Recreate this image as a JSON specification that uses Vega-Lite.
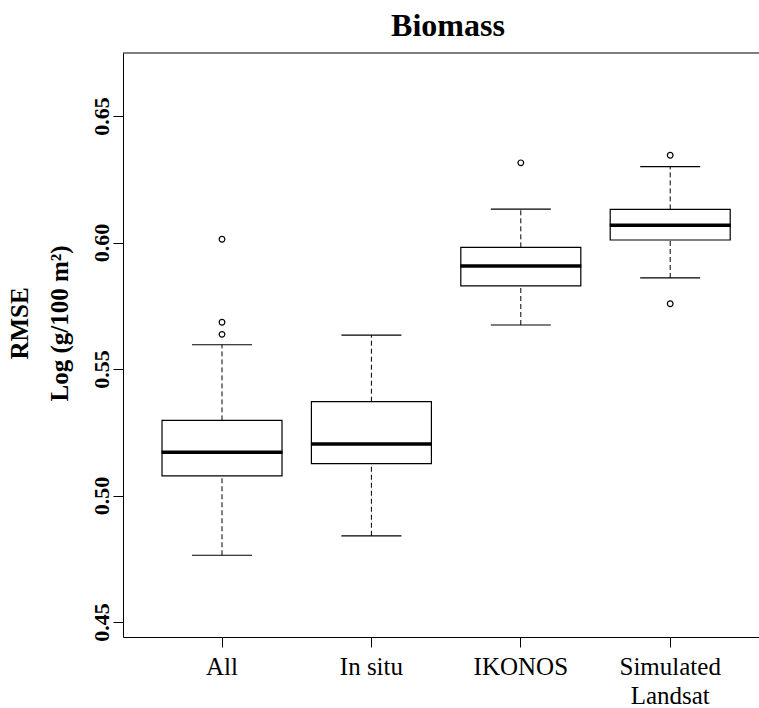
{
  "$schema": "https://vega.github.io/schema/vega-lite/v6.json",
  "width": 636,
  "height": 584,
  "autosize": {"type": "none"},
  "padding": {"left": 123, "top": 53, "right": 0, "bottom": 71},
  "background": "white",
  "title": {
    "text": "Biomass",
    "font": "Liberation Serif",
    "fontSize": 32,
    "fontWeight": "bold",
    "color": "black",
    "anchor": "middle",
    "baseline": "bottom",
    "offset": 12,
    "dx": 7,
    "dy": 35
  },
  "config": {
    "view": {"stroke": null},
    "axis": {"domainColor": "black", "tickColor": "black", "labelColor": "black", "titleColor": "black", "grid": false}
  },
  "datasets": {
    "stats": [
      {"group": "All", "lower": 0.4764, "q1": 0.5078, "median": 0.5171, "q3": 0.5297, "upper": 0.5596},
      {"group": "In situ", "lower": 0.4841, "q1": 0.5126, "median": 0.5204, "q3": 0.5371, "upper": 0.5634},
      {"group": "IKONOS", "lower": 0.5674, "q1": 0.5829, "median": 0.5907, "q3": 0.5981, "upper": 0.6132},
      {"group": "Simulated Landsat", "lower": 0.5860, "q1": 0.6010, "median": 0.6068, "q3": 0.6131, "upper": 0.6300}
    ],
    "outliers": [
      {"group": "All", "value": 0.6013},
      {"group": "All", "value": 0.5685},
      {"group": "All", "value": 0.5637},
      {"group": "IKONOS", "value": 0.6315},
      {"group": "Simulated Landsat", "value": 0.6345},
      {"group": "Simulated Landsat", "value": 0.5758}
    ]
  },
  "encoding": {
    "x": {
      "field": "group",
      "type": "nominal",
      "scale": {"domain": ["All", "In situ", "IKONOS", "Simulated Landsat"], "paddingInner": 0, "paddingOuter": 0.1285, "align": 0.633},
      "axis": {
        "title": null,
        "labelAngle": 0,
        "labelFont": "Liberation Serif",
        "labelFontSize": 25,
        "labelAlign": "center",
        "labelBaseline": "alphabetic",
        "labelPadding": 27,
        "labelLineHeight": 29,
        "tickSize": 10,
        "domainWidth": 1,
        "labelExpr": "datum.label == 'Simulated Landsat' ? ['Simulated', 'Landsat'] : datum.label"
      }
    }
  },
  "layer": [
    {
      "data": {"name": "stats"},
      "mark": {"type": "rule", "color": "black", "strokeWidth": 1, "strokeDash": [5, 3]},
      "encoding": {
        "y": {
          "field": "lower",
          "type": "quantitative",
          "scale": {"domain": [0.4441, 0.6749], "nice": false, "zero": false},
          "axis": {
            "title": ["RMSE", "Log (g/100 m²)"],
            "titleFont": "Liberation Serif",
            "titleFontSize": 25,
            "titleFontWeight": "bold",
            "titleAngle": 270,
            "titleAlign": "center",
            "titleBaseline": "alphabetic",
            "titleLineHeight": 40,
            "titleX": -96,
            "titleY": 270,
            "values": [0.45, 0.5, 0.55, 0.6, 0.65],
            "format": ".2f",
            "labelFont": "Liberation Serif",
            "labelFontSize": 22,
            "labelFontWeight": "bold",
            "labelAngle": 270,
            "labelAlign": "center",
            "labelBaseline": "alphabetic",
            "labelPadding": 5,
            "tickSize": 10
          }
        },
        "y2": {"field": "q1"}
      }
    },
    {
      "data": {"name": "stats"},
      "mark": {"type": "rule", "color": "black", "strokeWidth": 1, "strokeDash": [5, 3]},
      "encoding": {
        "y": {"field": "q3", "type": "quantitative"},
        "y2": {"field": "upper"}
      }
    },
    {
      "data": {"name": "stats"},
      "mark": {"type": "tick", "color": "black", "opacity": 1, "size": 60, "thickness": 1.2, "orient": "horizontal"},
      "encoding": {"y": {"field": "lower", "type": "quantitative"}}
    },
    {
      "data": {"name": "stats"},
      "mark": {"type": "tick", "color": "black", "opacity": 1, "size": 60, "thickness": 1.2, "orient": "horizontal"},
      "encoding": {"y": {"field": "upper", "type": "quantitative"}}
    },
    {
      "data": {"name": "stats"},
      "mark": {"type": "bar", "fill": "white", "stroke": "black", "opacity": 1, "strokeWidth": 1.2, "size": 120},
      "encoding": {
        "y": {"field": "q1", "type": "quantitative"},
        "y2": {"field": "q3"}
      }
    },
    {
      "data": {"name": "stats"},
      "mark": {"type": "tick", "color": "black", "opacity": 1, "size": 121, "thickness": 3.5, "orient": "horizontal"},
      "encoding": {"y": {"field": "median", "type": "quantitative"}}
    },
    {
      "data": {"name": "outliers"},
      "mark": {"type": "point", "shape": "circle", "filled": false, "color": "black", "opacity": 1, "size": 32, "strokeWidth": 1.2},
      "encoding": {"y": {"field": "value", "type": "quantitative"}}
    },
    {
      "data": {"values": [{"top": 0.6749}]},
      "mark": {"type": "rule", "color": "black", "strokeWidth": 1.2},
      "encoding": {"y": {"field": "top", "type": "quantitative"}, "x": null}
    }
  ]
}
